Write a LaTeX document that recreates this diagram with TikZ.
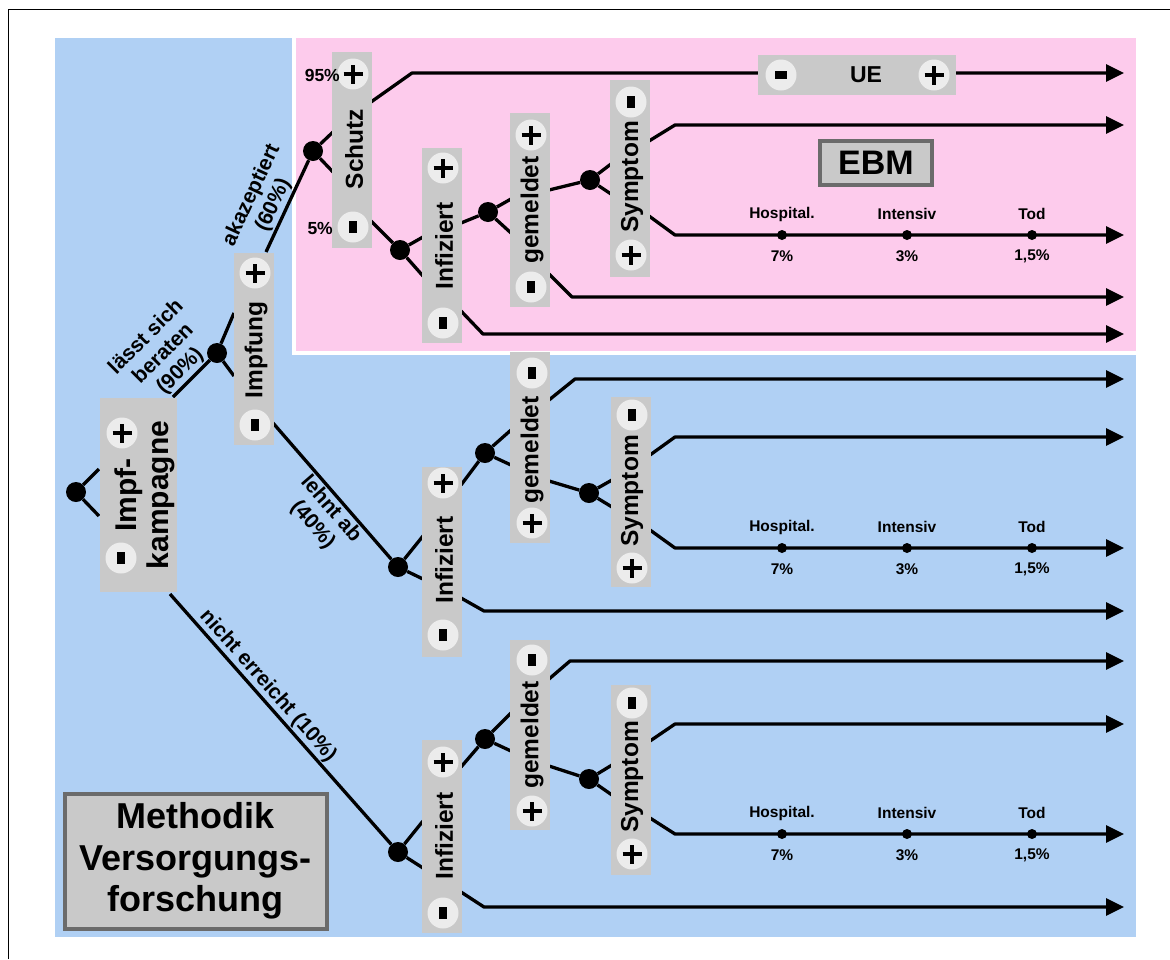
\documentclass[tikz,border=0pt]{standalone}
\usepackage{fontspec}
\setmainfont{Liberation Sans}
\usetikzlibrary{arrows.meta}
\definecolor{bgblue}{HTML}{B0D0F4}
\definecolor{bgpink}{HTML}{FDCBEC}
\definecolor{boxgray}{HTML}{C9C9C9}
\definecolor{circgray}{HTML}{ECECEC}
\definecolor{framegray}{HTML}{6B6B6B}
\newcommand\mkplus[2]{\node[pm] (#1) at (#2) {};
  \draw[pmline] ([xshift=-9.5pt]#1.center) -- ([xshift=9.5pt]#1.center)
    ([yshift=-9.5pt]#1.center) -- ([yshift=9.5pt]#1.center);}
\newcommand\mkminv[2]{\node[pm] (#1) at (#2) {};
  \fill ([xshift=-3.6pt,yshift=-5.8pt]#1.center) rectangle ([xshift=3.6pt,yshift=5.8pt]#1.center);}
\newcommand\mkminh[2]{\node[pm] (#1) at (#2) {};
  \fill ([xshift=-5.8pt,yshift=-3.6pt]#1.center) rectangle ([xshift=5.8pt,yshift=3.6pt]#1.center);}
\newcommand\hosp[2]{%
  \node[sdot] (#1h) at (782,#2) {};
  \node[sdot] (#1i) at (907,#2) {};
  \node[sdot] (#1t) at (1032,#2) {};
  \node[slab] (#1hl) at ([yshift=21pt]#1h.center) {Hospital.};
  \node[slab] (#1il) at ([yshift=21pt]#1i.center) {Intensiv};
  \node[slab] (#1tl) at ([yshift=21pt]#1t.center) {Tod};
  \node[slab] (#1hp) at ([yshift=-21pt]#1h.center) {7\%};
  \node[slab] (#1ip) at ([yshift=-21pt]#1i.center) {3\%};
  \node[slab] (#1tp) at ([yshift=-21pt]#1t.center) {1,5\%};}
\begin{document}
\begin{tikzpicture}[x=1pt,y=-1pt,
 ln/.style={line width=3.3pt,line join=round},
 arr/.style={ln,-{Triangle[length=18pt,width=17pt]}},
 dot/.style={circle,fill=black,minimum size=20pt,inner sep=0pt},
 sdot/.style={circle,fill=black,minimum size=10pt,inner sep=0pt},
 gbox/.style={fill=boxgray,inner sep=0pt,minimum width=40pt},
 pm/.style={circle,fill=circgray,minimum size=31pt,inner sep=0pt},
 pmline/.style={line width=4.8pt},
 vlab/.style={rotate=90,inner sep=0pt,font=\fontsize{24.5}{27}\selectfont\bfseries},
 blab/.style={font=\fontsize{21}{24}\selectfont\bfseries,align=center,inner sep=1.5pt},
 slab/.style={font=\fontsize{15.5}{17}\selectfont\bfseries,inner sep=0pt},
 tbox/.style={draw=framegray,line width=4pt,fill=boxgray,inner sep=0pt,align=center}
]
\useasboundingbox (0,0) rectangle (1170,959);
\fill[white] (0,0) rectangle (1170,959);
\draw[line width=1.8pt] (8.5,959) -- (8.5,9.5) -- (1170,9.5);
\fill[bgblue] (55,38) rectangle (1136,937);
\filldraw[fill=bgpink,draw=white,line width=4pt] (294,36) rectangle (1138,353);

% ---------- dots ----------
\node[dot] (R0) at (76,492) {};
\node[dot] (D1) at (217,353) {};
\node[dot] (D2) at (313,151) {};
\node[dot] (D3) at (400,250) {};
\node[dot] (D4) at (488,212) {};
\node[dot] (D5) at (590,180) {};
\node[dot] (D6) at (398,567) {};
\node[dot] (D7) at (485,453) {};
\node[dot] (D8) at (589,493) {};
\node[dot] (D9) at (398,852) {};
\node[dot] (D10) at (485,739) {};
\node[dot] (D11) at (589,779) {};

% ---------- coordinates ----------
\coordinate (r0a) at (99,469); \coordinate (r0b) at (99,516);
\coordinate (k1) at (173,397); \coordinate (k2) at (170,594);
\coordinate (d1a) at (234,313); \coordinate (d1b) at (234,376);
\coordinate (i1a) at (266,252); \coordinate (i1b) at (273,423);
\coordinate (d2a) at (333,132); \coordinate (d2b) at (333,172);
\coordinate (s1) at (371,102); \coordinate (s2) at (371,221);
\coordinate (d3a) at (423,237); \coordinate (d3b) at (423,276);
\coordinate (f1a) at (461,223); \coordinate (f1b) at (461,311);
\coordinate (d4a) at (511,199); \coordinate (d4b) at (511,233);
\coordinate (g1a) at (549,190); \coordinate (g1b) at (549,274);
\coordinate (d5a) at (611,164); \coordinate (d5b) at (611,194);
\coordinate (y1a) at (649,141); \coordinate (y1b) at (649,216);
\coordinate (e1) at (1124,73); \coordinate (e2) at (1124,125);
\coordinate (e3) at (1124,235); \coordinate (e4) at (1124,297);
\coordinate (e5) at (1124,334);
% section 2
\coordinate (d6a) at (423,536); \coordinate (d6b) at (423,579);
\coordinate (f2a) at (461,485); \coordinate (f2b) at (461,598);
\coordinate (d7a) at (511,430); \coordinate (d7b) at (511,465);
\coordinate (g2a) at (549,400); \coordinate (g2b) at (549,481);
\coordinate (d8a) at (612,480); \coordinate (d8b) at (612,507);
\coordinate (y2a) at (650,455); \coordinate (y2b) at (650,530);
\coordinate (e6) at (1124,379); \coordinate (e7) at (1124,437);
\coordinate (e8) at (1124,548); \coordinate (e9) at (1124,611);
% section 3
\coordinate (d9a) at (423,821); \coordinate (d9b) at (423,868);
\coordinate (f3a) at (461,767); \coordinate (f3b) at (461,892);
\coordinate (d10a) at (511,713); \coordinate (d10b) at (511,751);
\coordinate (g3a) at (549,679); \coordinate (g3b) at (549,766);
\coordinate (d11a) at (612,765); \coordinate (d11b) at (612,795);
\coordinate (y3a) at (650,741); \coordinate (y3b) at (650,818);
\coordinate (e10) at (1124,661); \coordinate (e11) at (1124,724);
\coordinate (e12) at (1124,834); \coordinate (e13) at (1124,907);

% ---------- connectors ----------
\draw[ln] (R0) -- (r0a);
\draw[ln] (R0) -- (r0b);
\draw[ln] (k1) -- node[blab,sloped,above,pos=0.45]{lässt sich\\beraten\\(90\%)} (D1);
\draw[ln] (D1) -- (d1a);
\draw[ln] (D1) -- (d1b);
\draw[ln] (i1a) -- node[blab,sloped,above,pos=0.45]{akazeptiert\\(60\%)} (D2);
\draw[ln] (D2) -- (d2a);
\draw[ln] (D2) -- (d2b);
\draw[arr] (s1) -- (412,73) -- (e1);
\draw[ln] (s2) -- (D3);
\draw[ln] (D3) -- (d3a);
\draw[ln] (D3) -- (d3b);
\draw[ln] (f1a) -- (D4);
\draw[ln] (D4) -- (d4a);
\draw[ln] (D4) -- (d4b);
\draw[ln] (g1a) -- (D5);
\draw[ln] (D5) -- (d5a);
\draw[ln] (D5) -- (d5b);
\draw[arr] (y1a) -- (675,125) -- (e2);
\draw[arr] (y1b) -- (675,235) -- (e3);
\draw[arr] (g1b) -- (572,297) -- (e4);
\draw[arr] (f1b) -- (483,334) -- (e5);
% section 2
\draw[ln] (i1b) -- node[blab,sloped,below,pos=0.57]{lehnt ab\\(40\%)} (D6);
\draw[ln] (D6) -- (d6a);
\draw[ln] (D6) -- (d6b);
\draw[ln] (f2a) -- (D7);
\draw[ln] (D7) -- (d7a);
\draw[ln] (D7) -- (d7b);
\draw[arr] (g2a) -- (575,379) -- (e6);
\draw[ln] (g2b) -- (D8);
\draw[ln] (D8) -- (d8a);
\draw[ln] (D8) -- (d8b);
\draw[arr] (y2a) -- (675,437) -- (e7);
\draw[arr] (y2b) -- (675,548) -- (e8);
\draw[arr] (f2b) -- (484,611) -- (e9);
% section 3
\draw[ln] (k2) -- node[blab,sloped,above,pos=0.40,inner sep=1pt]{nicht erreicht (10\%)} (D9);
\draw[ln] (D9) -- (d9a);
\draw[ln] (D9) -- (d9b);
\draw[ln] (f3a) -- (D10);
\draw[ln] (D10) -- (d10a);
\draw[ln] (D10) -- (d10b);
\draw[arr] (g3a) -- (570,661) -- (e10);
\draw[ln] (g3b) -- (D11);
\draw[ln] (D11) -- (d11a);
\draw[ln] (D11) -- (d11b);
\draw[arr] (y3a) -- (675,724) -- (e11);
\draw[arr] (y3b) -- (675,834) -- (e12);
\draw[arr] (f3b) -- (484,907) -- (e13);

% ---------- gray boxes ----------
\node[gbox,minimum width=77pt,minimum height=194pt] (K) at (138.5,495) {};
\node[gbox,minimum height=192pt] (I1) at (254,349) {};
\node[gbox,minimum height=196pt] (S) at (352,150) {};
\node[gbox,minimum height=195pt] (F1) at (442,245.5) {};
\node[gbox,minimum height=194pt] (G1) at (530,210) {};
\node[gbox,minimum height=197pt] (Y1) at (630,178.5) {};
\node[gbox,minimum height=190pt] (F2) at (442,562) {};
\node[gbox,minimum height=191pt] (G2) at (530,447.5) {};
\node[gbox,minimum height=190pt] (Y2) at (631,492) {};
\node[gbox,minimum height=193pt] (F3) at (442,836.5) {};
\node[gbox,minimum height=190pt] (G3) at (530,735) {};
\node[gbox,minimum height=190pt] (Y3) at (631,780) {};
\node[gbox,minimum width=198pt,minimum height=40pt] (UE) at (857,75) {};

% ---------- plus / minus circles ----------
\mkplus{Kp}{122,433} \mkminv{Km}{121,558}
\mkplus{I1p}{255,273} \mkminv{I1m}{255,425}
\mkplus{Sp}{353,74} \mkminv{Sm}{353,227}
\mkplus{F1p}{443,168} \mkminv{F1m}{443,323}
\mkplus{G1p}{531,135} \mkminv{G1m}{531,287}
\mkminv{Y1m}{631,102} \mkplus{Y1p}{631,255}
\mkplus{F2p}{443,483} \mkminv{F2m}{443,635}
\mkminv{G2m}{532,373} \mkplus{G2p}{532,523}
\mkminv{Y2m}{632,415} \mkplus{Y2p}{632,568}
\mkplus{F3p}{443,762} \mkminv{F3m}{443,913}
\mkminv{G3m}{532,660} \mkplus{G3p}{532,811}
\mkminv{Y3m}{632,703} \mkplus{Y3p}{632,854}
\mkminh{UEm}{781,75} \mkplus{UEp}{934,75}

% ---------- box texts ----------
\node[rotate=90,align=center,inner sep=0pt,font=\fontsize{30}{32}\selectfont\bfseries] (Kt) at (145,495) {Impf-\\kampagne};
\node[vlab] (I1t) at (256,350) {Impfung};
\node[vlab] (St) at (354,149) {Schutz};
\node[vlab] (F1t) at (444,246) {Infiziert};
\node[vlab] (G1t) at (532,210) {gemeldet};
\node[vlab] (Y1t) at (632,177) {Symptom};
\node[vlab] (F2t) at (444,560) {Infiziert};
\node[vlab] (G2t) at (532,450) {gemeldet};
\node[vlab] (Y2t) at (632,491) {Symptom};
\node[vlab] (F3t) at (444,836) {Infiziert};
\node[vlab] (G3t) at (532,735) {gemeldet};
\node[vlab] (Y3t) at (632,777) {Symptom};
\node[font=\fontsize{23}{25}\selectfont\bfseries,inner sep=0pt] (UEt) at (866,75) {UE};
\node[font=\fontsize{17.5}{19}\selectfont\bfseries,anchor=east,inner sep=0pt] (p95) at (340,75) {95\%};
\node[font=\fontsize{17.5}{19}\selectfont\bfseries,anchor=east,inner sep=0pt] (p5) at (333,228) {5\%};

% ---------- outcome labels ----------
\hosp{a}{235}
\hosp{b}{548}
\hosp{c}{834}

% ---------- title boxes ----------
\node[tbox,minimum width=112pt,minimum height=44pt,font=\fontsize{34}{36}\selectfont\bfseries] (EBM) at (876,163) {EBM};
\node[tbox,minimum width=262pt,minimum height=135pt,font=\fontsize{36}{41.5}\selectfont\bfseries] (M) at (195.5,861) {Methodik\\Versorgungs-\\forschung};
\end{tikzpicture}
\end{document}
